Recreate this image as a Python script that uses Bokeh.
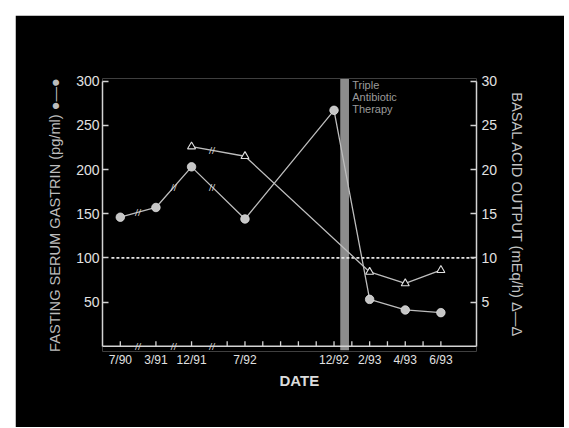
import numpy as np
from bokeh.plotting import figure
from bokeh.models import (Range1d, LinearAxis, FixedTicker, Label, LabelSet, Title,
                          BoxAnnotation, ColumnDataSource)
from bokeh.embed import file_html
from bokeh.resources import INLINE

# ---------------- data ----------------
date_labels = ["7/90", "3/91", "12/91", "7/92", "12/92", "2/93", "4/93", "6/93"]
date_pos = [0, 2, 4, 7, 12, 14, 16, 18]          # month-slot positions on the broken axis
gastrin = [146, 157, 203, 144, 267, 53, 41, 38]  # pg/ml (left axis)
bao_pos = [4, 7, 14, 16, 18]
bao = [22.6, 21.5, 8.4, 7.1, 8.6]                # mEq/h (right axis)
month_ticks = [0, 2, 4, 6, 7, 8, 9, 10, 11, 12, 13, 14, 15, 16, 17, 18]
axis_breaks = [1, 3, 5.15]
gastrin_ticks = [50, 100, 150, 200, 250, 300]
bao_ticks = [5, 10, 15, 20, 25, 30]
normal_gastrin = 100
therapy_start, therapy_end = 12.35, 12.84
therapy_lines = ["Triple", "Antibiotic", "Therapy"]

X0, X1 = -1, 20
Y0, Y1 = 0, 300
YLO, YHI = -6, 303
TICK_LEN = 5.7   # data units (~5 px)

FG = "#d4d4d4"
LINE = "#bdbdbd"
FONT = "Liberation Sans"

p = figure(width=549, height=412, x_range=Range1d(X0, X1), y_range=Range1d(YLO, YHI),
           output_backend="svg", toolbar_location=None,
           min_border_left=87, min_border_right=88, min_border_top=63, min_border_bottom=76,
           background_fill_color="black", border_fill_color="black",
           outline_line_color=None, margin=(15, 0, 0, 15))
p.xgrid.visible = False
p.ygrid.visible = False

p.extra_y_ranges = {"bao": Range1d(YLO / 10.0, YHI / 10.0)}
right_axis = LinearAxis(y_range_name="bao")
p.add_layout(right_axis, "right")

def style_axis(ax, size):
    ax.axis_line_color = FG
    ax.axis_line_width = 1.5
    ax.major_tick_line_color = FG
    ax.major_tick_line_width = 1.3
    ax.minor_tick_line_color = None
    ax.major_tick_in = 6
    ax.major_tick_out = 0
    ax.major_label_text_color = "#e2e2e2"
    ax.major_label_text_font = FONT
    ax.major_label_text_font_size = size
    ax.axis_label_text_font = FONT
    ax.axis_label_text_font_style = "normal"

xa = p.xaxis[0]
ya = p.yaxis[0]
style_axis(xa, "12px")
style_axis(ya, "14px")
style_axis(right_axis, "14px")
# x axis: only its labels come from the frame-edge axis; the line/ticks sit at y=0
xa.axis_line_color = None
xa.major_tick_line_color = None
xa.ticker = FixedTicker(ticks=month_ticks)
overrides = {t: "" for t in month_ticks}
for pos, lab in zip(date_pos, date_labels):
    overrides[pos] = lab
xa.major_label_overrides = overrides
xa.major_label_standoff = 1

ya.bounds = (Y0, Y1)
ya.ticker = FixedTicker(ticks=gastrin_ticks)
ya.major_label_standoff = 3
ya.axis_label = "FASTING SERUM GASTRIN (pg/ml) \u25cf\u2014\u25cf"
ya.axis_label_text_color = "#bcbcbc"
ya.axis_label_text_font_size = "14.6px"
ya.axis_label_standoff = 10

right_axis.bounds = (Y0 / 10.0, Y1 / 10.0)
right_axis.ticker = FixedTicker(ticks=bao_ticks)
right_axis.major_label_standoff = 5
right_axis.axis_label = "BASAL ACID OUTPUT (mEq/h) \u0394\u2014\u0394"
right_axis.axis_label_text_color = "#c4c4c4"
right_axis.axis_label_text_font_size = "14.7px"
right_axis.axis_label_standoff = 9

p.add_layout(Title(text="DATE", align="left", offset=177, text_font=FONT,
                   text_font_size="15px", text_font_style="bold",
                   text_color="#dcdcdc", standoff=1), "below")

# therapy bar
p.add_layout(BoxAnnotation(left=therapy_start, right=therapy_end, bottom=-4.5, top=302.5,
                           fill_color="#8c8c8c", fill_alpha=1, line_color=None,
                           level="underlay"))

# date axis line and inward ticks at y = 0
p.line([X0, X1], [Y0, Y0], line_color=FG, line_width=1.5)
p.segment(x0=month_ticks, y0=[Y0] * len(month_ticks), x1=month_ticks,
          y1=[Y0 + TICK_LEN] * len(month_ticks), line_color=FG, line_width=1.3)

# normal limit dashed line
p.line([X0 + 0.5, X1], [normal_gastrin, normal_gastrin], line_color="#e6e6e6",
       line_width=1.6, line_dash="3 2")

# series
p.line(date_pos, gastrin, line_color=LINE, line_width=1.3)
p.line(bao_pos, bao, line_color=LINE, line_width=1.3, y_range_name="bao")
p.scatter(date_pos, gastrin, size=8.5, marker="circle", fill_color="#c6c6c6",
          line_color="#dedede", line_width=0.8)
p.scatter(bao_pos, bao, size=8, marker="triangle", fill_color="black",
          line_color="#e0e0e0", line_width=1.1, y_range_name="bao")

# break marks
bx = np.array(axis_breaks, dtype=float)
g_break_y = np.interp(bx, date_pos, gastrin)
bao_mask = bx >= bao_pos[0]
b_break_x = bx[bao_mask]
b_break_y = np.interp(b_break_x, bao_pos, bao) * 10.0
brk_x = list(bx) + list(bx) + list(b_break_x)
brk_y = [Y0] * len(bx) + list(g_break_y) + list(b_break_y)
brk_src = ColumnDataSource(dict(x=brk_x, y=brk_y, t=["//"] * len(brk_x)))
p.add_layout(LabelSet(x="x", y="y", text="t", source=brk_src, text_align="center",
                      text_baseline="middle", text_font_size="11px",
                      text_font_style="bold", text_color="#d8d8d8",
                      text_font=FONT))

# therapy text
for i, ln in enumerate(therapy_lines):
    p.add_layout(Label(x=13.02, y=295.6 - 13.6 * i, text=ln, text_align="left",
                       text_baseline="middle", text_font_size="11px",
                       text_color="#9a9a9a", text_font=FONT))

open("out.html", "w").write(file_html(p, INLINE))
